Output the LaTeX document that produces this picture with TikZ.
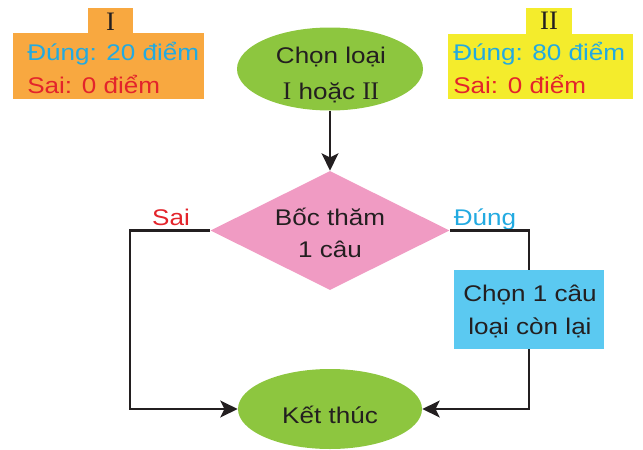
\documentclass[tikz,border=0pt]{standalone}
\usepackage{fontspec}
\setmainfont{Liberation Sans}[FakeStretch=1.15]
\newfontfamily\serif{Liberation Serif}
\usetikzlibrary{shapes.geometric,arrows.meta}
\definecolor{boxorange}{HTML}{F8A840}
\definecolor{boxyellow}{HTML}{F4EC2C}
\definecolor{boxgreen}{HTML}{8DC63F}
\definecolor{boxpink}{HTML}{F09BC3}
\definecolor{boxblue}{HTML}{5BC9F1}
\definecolor{txtblue}{HTML}{22AAE1}
\definecolor{txtred}{HTML}{E3242B}
\definecolor{txtblack}{HTML}{231F20}
\tikzset{
  plain/.style={rectangle, inner sep=0pt, draw=none},
  oval/.style={ellipse, inner sep=0pt, fill=boxgreen, draw=none},
  txt/.style={inner sep=0pt, anchor=base, font=\fontsize{17}{25}\selectfont, text=txtblack},
  ltxt/.style={inner sep=0pt, anchor=base west, font=\fontsize{17}{25}\selectfont},
  tabtxt/.style={font=\fontsize{20}{22}\serif, text=txtblack},
  conn/.style={line width=1.9pt, draw=txtblack},
  arr/.style={conn, -{Stealth[length=13pt,width=12.5pt,inset=3pt]}}
}
\begin{document}
\begin{tikzpicture}[x=0.75pt,y=-0.75pt]
\useasboundingbox (0,0) rectangle (643,450);
% box I
\node[plain, fill=boxorange, minimum width=143.25pt, minimum height=49.5pt] (boxI) at (108.5,66) {};
\node[plain, fill=boxorange, minimum width=33.75pt, minimum height=20.25pt, tabtxt] (tabI) at (110.5,21.5) {I};
\node[ltxt, text=txtblue] (dI) at (27,60) {Đúng: 20 điểm};
\node[ltxt, text=txtred] (sI) at (27,93) {Sai: 0 điểm};
% box II
\node[plain, fill=boxyellow, minimum width=138.75pt, minimum height=48.75pt] (boxII) at (540.5,66.5) {};
\node[plain, fill=boxyellow, minimum width=34.5pt, minimum height=19.5pt, tabtxt] (tabII) at (549,21) {II};
\node[ltxt, text=txtblue] (dII) at (453,60) {Đúng: 80 điểm};
\node[ltxt, text=txtred] (sII) at (453,93) {Sai: 0 điểm};
% start ellipse
\node[oval, minimum width=139.5pt, minimum height=62.25pt] (start) at (330,69) {};
\node[txt] (startA) at (331,63) {Chọn loại};
\node[txt] (startB) at (331,99) {{\serif\fontsize{19}{25}\selectfont I} hoặc {\serif\fontsize{19}{25}\selectfont II}};
% diamond
\node[diamond, inner sep=0pt, fill=boxpink, draw=none, minimum width=179.25pt, minimum height=89.25pt] (dia) at (330,230.5) {};
\node[txt] (diaA) at (330,225) {Bốc thăm};
\node[txt] (diaB) at (330,257) {1 câu};
% blue box
\node[plain, fill=boxblue, minimum width=112.5pt, minimum height=59.25pt] (blue) at (529,309.5) {};
\node[txt] (blueA) at (530,301) {Chọn 1 câu};
\node[txt] (blueB) at (530,334) {loại còn lại};
% end ellipse
\node[oval, minimum width=138pt, minimum height=60pt] (end) at (330,409) {};
\node[txt] (endA) at (330,423) {Kết thúc};
% labels
\node[txt, text=txtred] (lsai) at (171,225) {Sai};
\node[txt, text=txtblue] (ldung) at (485,225) {Đúng};
% connectors
\coordinate (L) at (130,230.5);
\coordinate (R) at (529,230.5);
\draw[arr] (start) -- (dia);
\draw[arr] (dia.west) -- (L) |- (end.west);
\draw[conn] (dia.east) -- (R) -- (blue.north);
\draw[arr] (blue.south) |- (end.east);
\end{tikzpicture}
\end{document}
